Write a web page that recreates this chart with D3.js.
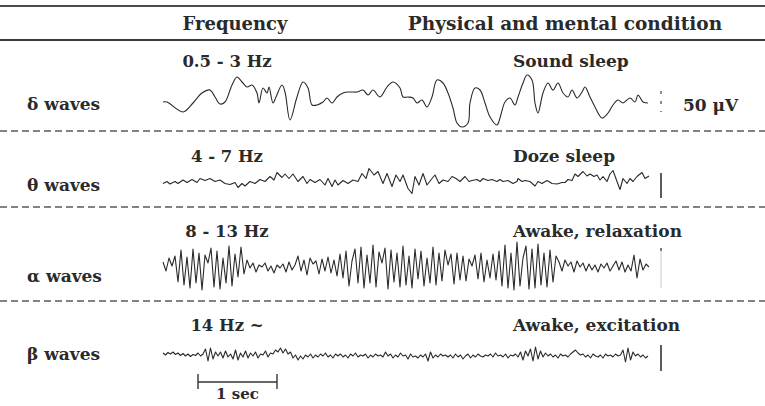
<!DOCTYPE html>
<html>
<head>
<meta charset="utf-8">
<script src="https://cdn.jsdelivr.net/npm/d3@7"></script>
<style>
  body { margin: 0; background: #fff; }
  svg { display: block; }
</style>
</head>
<body>
<div id="eeg"></div>
<script>
const ticksPerSecond = 79;
const waveNames = ["δ waves", "θ waves", "α waves", "β waves"];
const frequencies = ["0.5 - 3 Hz", "4 - 7 Hz", "8 - 13 Hz", "14 Hz ~"];
const conditions = ["Sound sleep", "Doze sleep", "Awake, relaxation", "Awake, excitation"];

const deltaTrace = [
  [0, -4], [4, -4], [20, -24], [30, -6], [39, 14], [47, 20], [52, 6], [57, -8], [62, -4],
  [69, 30], [74, 46], [79, 36], [84, 26], [89, 30], [94, 14], [96, -6], [100, 24], [104, 14],
  [106, 26], [110, -6], [113, 6], [119, 30], [122, 16], [127, -40], [134, 6], [140, 36],
  [145, 24], [149, -10], [154, -10], [160, -4], [164, 4], [169, -6], [174, 6], [180, 14],
  [187, 16], [194, 16], [200, 20], [205, 10], [210, 20], [217, 6], [224, 26], [230, 36],
  [237, 24], [240, 6], [245, 6], [250, 4], [254, -6], [259, 0], [264, -14], [269, 6],
  [274, 40], [280, 34], [285, 14], [290, -16], [294, -46], [299, -54], [305, -46], [307, -6],
  [312, 24], [317, 20], [322, -6], [327, -34], [334, -50], [337, -36], [342, -4], [347, 4],
  [352, -10], [355, 6], [360, 34], [364, 50], [369, 40], [372, -6], [375, -26], [380, 14],
  [385, 34], [390, 20], [395, 34], [400, 14], [405, 6], [409, 20], [414, 4], [419, 16],
  [422, 26], [427, 6], [432, -14], [439, -36], [445, -26], [450, -10], [455, 0], [460, -6],
  [467, 4], [472, -4], [475, 10], [480, -4], [485, -6]
];

const thetaTrace = [
  [0, -1], [4, 3], [7, -2], [12, 3], [15, -1], [20, 6], [24, 1], [29, 7], [34, 1], [37, 9],
  [42, 5], [47, 9], [52, 3], [57, 6], [62, -1], [67, -3], [72, 1], [75, -9], [79, -1], [82, -6],
  [87, 3], [92, -1], [97, 7], [102, 3], [107, 13], [111, 6], [114, 21], [119, 11], [122, 18],
  [126, 9], [130, 18], [135, 3], [140, 13], [144, -1], [147, 7], [152, 1], [157, 7], [162, -4],
  [165, 9], [169, -7], [172, 6], [175, -4], [180, 5], [185, -1], [190, 6], [195, 3], [199, 19],
  [203, 9], [206, 29], [211, 16], [215, 23], [220, -1], [224, 19], [229, -7], [233, 16],
  [237, 3], [240, 16], [245, -11], [249, -21], [252, 13], [256, -4], [260, 19], [264, -4],
  [269, 9], [272, 16], [276, -1], [280, 6], [285, 3], [289, 13], [293, 9], [297, 3], [302, 13],
  [306, 3], [309, 5], [314, 7], [317, 3], [320, 9], [325, 5], [329, 7], [334, 3], [337, 7],
  [340, 3], [345, 5], [350, -1], [354, 3], [355, 9], [359, 3], [362, 5], [367, 3], [372, -6],
  [375, 3], [379, -1], [384, 5], [389, -1], [394, -2], [399, 1], [402, 1], [405, 7], [409, 5],
  [412, 18], [415, 13], [420, 23], [424, 14], [427, 18], [431, 13], [434, 16], [437, 6],
  [440, 13], [444, 3], [447, 18], [450, 25], [454, 3], [457, -13], [460, 9], [464, -1],
  [467, 9], [470, 3], [474, 13], [479, 21], [482, 9], [486, 14]
];

// alpha read every 3 ticks, beta every 2.5 ticks
const alphaStep = 3;
const alphaSamples = [
  12, -6, 20, 4, 24, -28, 36, -34, 22, -40, 38, -30, 30, -44, 26, 10, 40, -38, 34, -42,
  20, -30, 44, -36, 28, -18, 42, -12,
  16, 0, 10, -8, 6, 2, 10, -6, 4, -10, 6, 0, 8, -8, 12, -4, 6,
  24, -6, 16, -14, 20, 8, 14, -12, 18, -6, 22, -10, 16, -16, 28,
  -20, 34, -36, 14, 38, -30, 42, -40, 26, -30, 46, -38, 32, 10, 40, -42, 36, -28, 30, -38,
  44, -34, 24, -40, 38, -22, 34, -36, 20, -30, 42, -34, 30, -26, 36, 6, 28, -32, 30, -24,
  24, -26, 18, 4, 26, -22, 30, -28, 16, -20, 28, -24, 34,
  -36, 46, -40, 30, -44, 52, -36, 20, 44, -42, 38, -40, 48, -34, 30, -38, 36, -28, 24,
  12, -6, 16, 4, 12, -8, 14, 2, 10, -6,
  8, -4, 6, -8, 8, 0, 10, -6, 4, 14, -4, 12, -8, 6, -6, 26, -20, 18, -4, 8, 2
];

const betaStep = 2.5;
const betaSamples = [
  8, 4, 9, 6, 10, 5, 8, 3, 7, 2, 6, 1, 5, 3, 8, 2, 6,
  16, -8, 18, -4, 10,
  2, 10, -2, 12, 0, 6, -4, 14, -6, 8, 0, 12, -2,
  8, 2, 10, -2, 6, 4, 12, 0, 8, 6, 14, 10, 18, 8, 16, 6,
  10, -2, 4, -6, 2, -4, 4,
  0, 6, -2, 4, 0, 6, 2, 8, 0, 4, -2, 6,
  2, 6, 0, 4, -2, 6, 2, 8, 0, 4, 2, 6, -2, 4, 0, 6, 2, 4,
  0, 10, 2, 6, -2, 4, 0, 8, 2, 4, -4, 6, 0, 2, -2, 4, 0, 6, -8, 10, -2, 4, 0, 6, 2, 4, 0,
  4, -2, 6, 0, 4, -4, 2, 6, -2, 4, 0, 6, 2,
  0, 4, 2, 6, 0, 8, 2, 4, 0, 6, -2, 4, 2, 6,
  0, 10, -6, 12, 2, 16, -8, 20, -4, 12, 0, 8, 2,
  6, 0, 4, -2, 6, 2, 4, 0, 6, 10, 14, 8, 4,
  6, 0, 4, -2, 6, 2, 0, 4, -2, 6, 2, 4, 0, 6, 2, 4,
  14, -10, 18, -6, 10, 2,
  6, 0, 4, -2, 2
];

// scale bar extent per row, microvolts relative to the trace baseline
const barTops = [18, 20, 40, 24];
const barBottoms = [-24, -30, -40, -28];

const width = 765;
const height = 406;
const ink = "#2a2a2a";
const serif = "'DejaVu Serif', 'Liberation Serif', serif";

const svg = d3
  .select("#eeg")
  .append("svg")
  .attr("width", width)
  .attr("height", height);

const xScale = d3.scaleLinear().domain([0, 487]).range([163, 650]);

const rowBase = [100, 183, 268, 357];
const rowLabelY = [67, 162, 237, 331];
const rowNameY = [110, 191, 282, 360];

const toPoints = (samples, step) => samples.map((v, i) => [i * step, v]);
const traces = [
  deltaTrace,
  thetaTrace,
  toPoints(alphaSamples, alphaStep),
  toPoints(betaSamples, betaStep)
];
const curves = [d3.curveCatmullRom, d3.curveLinear, d3.curveLinear, d3.curveLinear];

// header rules
svg.append("line")
  .attr("x1", 0).attr("x2", width).attr("y1", 6).attr("y2", 6)
  .style("stroke", "#4a4a4a").style("stroke-width", 2);
svg.append("line")
  .attr("x1", 0).attr("x2", width).attr("y1", 40).attr("y2", 40)
  .style("stroke", "#3a3a3a").style("stroke-width", 2.2);

[131, 207, 301].forEach(y => {
  svg.append("line")
    .attr("x1", 0).attr("x2", width).attr("y1", y).attr("y2", y)
    .style("stroke", "#5a5a5a").style("stroke-width", 1.5)
    .style("stroke-dasharray", "7,4");
});

const addText = (txt, x, y, size, anchor) =>
  svg.append("text")
    .attr("x", x).attr("y", y)
    .attr("text-anchor", anchor || "start")
    .style("font-family", serif)
    .style("font-weight", "bold")
    .style("font-size", size + "px")
    .style("fill", ink)
    .text(txt);

addText("Frequency", 235, 30, 18, "middle");
addText("Physical and mental condition", 565, 30, 18.5, "middle");

traces.forEach((trace, i) => {
  const base = rowBase[i];
  const yScale = d3.scaleLinear().domain([-50, 50]).range([base + 25, base - 25]);

  addText(frequencies[i], 227, rowLabelY[i], 16.5, "middle");
  addText(conditions[i], 513, rowLabelY[i], 17);
  addText(waveNames[i], 27, rowNameY[i], 17);

  const line = d3.line()
    .x(d => xScale(d[0]))
    .y(d => yScale(d[1]))
    .curve(curves[i]);

  svg.append("path")
    .datum(trace)
    .attr("d", line)
    .attr("fill", "none")
    .attr("stroke", ink)
    .attr("stroke-width", 1.1)
    .attr("stroke-linejoin", "round");

  // amplitude bar
  const bar = svg.append("line")
    .attr("x1", 661).attr("x2", 661)
    .attr("y1", yScale(barTops[i]))
    .attr("y2", yScale(barBottoms[i]));
  if (i === 0) {
    bar.style("stroke", "#666").style("stroke-width", 1.5).style("stroke-dasharray", "3,7");
  } else if (i === 2) {
    bar.style("stroke", "#d4d4d4").style("stroke-width", 1.2);
    svg.append("line")
      .attr("x1", 661).attr("x2", 661)
      .attr("y1", yScale(barTops[i])).attr("y2", yScale(barTops[i]) + 3)
      .style("stroke", "#555").style("stroke-width", 1.5);
  } else {
    bar.style("stroke", "#333").style("stroke-width", 1.6);
  }
});

addText("50 μV", 683, 111, 17);

// one-second bar
const secStart = 35;
const secY = 382;
const x0 = xScale(secStart);
const x1 = xScale(secStart + ticksPerSecond);
svg.append("line")
  .attr("x1", x0).attr("x2", x1).attr("y1", secY).attr("y2", secY)
  .style("stroke", "#333").style("stroke-width", 1.4);
[x0, x1].forEach(x => {
  svg.append("line")
    .attr("x1", x).attr("x2", x).attr("y1", secY - 8).attr("y2", secY + 7)
    .style("stroke", "#333").style("stroke-width", 1.4);
});
addText("1 sec", (x0 + x1) / 2, 399, 15, "middle");
</script>
</body>
</html>
